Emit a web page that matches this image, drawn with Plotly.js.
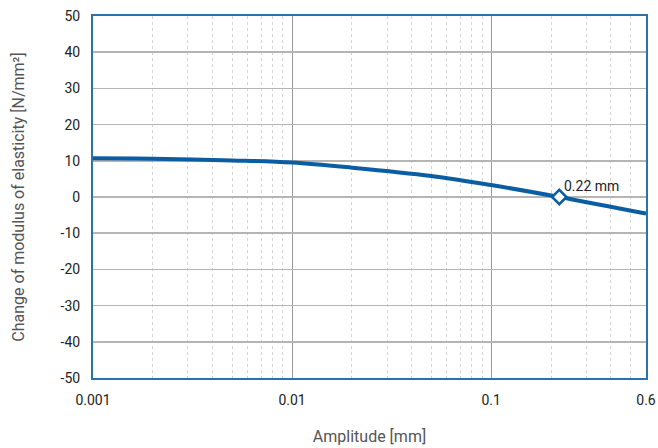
<!DOCTYPE html>
<html><head><meta charset="utf-8">
<script src="https://cdn.plot.ly/plotly-3.0.1.min.js"></script>
<style>html,body{margin:0;padding:0;background:#fff;}#chart{width:658px;height:448px;}</style>
</head><body><div id="chart"></div>
<script>
const amplitude = [0.001, 0.002, 0.005, 0.01, 0.02, 0.05, 0.1, 0.22, 0.6];
const modulusChange = [10.7, 10.6, 10.1, 9.5, 8.1, 5.8, 3.3, 0.0, -4.6];
const markerX = [0.22];
const markerY = [0];
const markerLabel = ['0.22 mm'];
const xTickVals = [0.001, 0.01, 0.1, 0.6];
const xTickText = ['0.001', '0.01', '0.1', '0.6'];
const yTickVals = [-50, -40, -30, -20, -10, 0, 10, 20, 30, 40, 50];
const yTickText = ['-50', '-40', '-30', '-20', '-10', '0', '10', '20', '30', '40', '50'];

const minorVals = [];
[0.001, 0.01, 0.1].forEach(d => { for (let k = 2; k <= 9; k++) { const v = d * k; if (v < 0.6) minorVals.push(v); } });

const blue = '#0a5da3';
const data = [
  {x: amplitude, y: modulusChange, type: 'scatter', mode: 'lines', line: {color: blue, width: 4, shape: 'spline', smoothing: 1}, hoverinfo: 'skip'},
  {x: markerX, y: markerY, type: 'scatter', mode: 'markers',
   marker: {symbol: 'diamond', size: 11, color: '#fff', line: {color: blue, width: 2.5}}}
];
const layout = {
  width: 658, height: 448,
  margin: {l: 93, r: 12, t: 16, b: 70},
  showlegend: false,
  paper_bgcolor: '#fff', plot_bgcolor: '#fff',
  font: {family: 'Roboto, sans-serif', size: 14, color: '#222'},
  annotations: [{x: Math.log10(markerX[0]), y: markerY[0], xref: 'x', yref: 'y', text: markerLabel[0], showarrow: false,
    xanchor: 'left', yanchor: 'bottom', xshift: 3, yshift: 1, font: {size: 14, color: '#222'}}],
  xaxis: {
    type: 'log', range: [Math.log10(0.001), Math.log10(0.6)],
    tickmode: 'array', tickvals: xTickVals, ticktext: xTickText,
    showgrid: true, gridcolor: '#999', gridwidth: 1,
    minor: {tickmode: 'array', tickvals: minorVals, showgrid: true, gridcolor: '#d4d4d4', griddash: 'dot', gridwidth: 1, ticks: ''},
    showline: true, linecolor: '#2b72ad', linewidth: 2, mirror: true,
    ticks: 'outside', ticklen: 8, tickcolor: 'rgba(0,0,0,0)',
    tickfont: {size: 14, color: '#222'},
    zeroline: false,
    title: {text: 'Amplitude [mm]', font: {size: 16, color: '#555'}, standoff: 24}
  },
  yaxis: {
    range: [-50, 50], tickmode: 'array', tickvals: yTickVals, ticktext: yTickText,
    showgrid: true, gridcolor: '#b5b5b5', gridwidth: 1.5,
    showline: true, linecolor: '#2b72ad', linewidth: 2, mirror: true,
    ticks: 'outside', ticklen: 8, tickcolor: 'rgba(0,0,0,0)',
    tickfont: {size: 14, color: '#222'},
    zeroline: false,
    title: {text: 'Change of modulus of elasticity [N/mm²]', font: {size: 16, color: '#555'}, standoff: 32}
  }
};
Plotly.newPlot('chart', data, layout, {displayModeBar: false, staticPlot: true});
</script></body></html>
